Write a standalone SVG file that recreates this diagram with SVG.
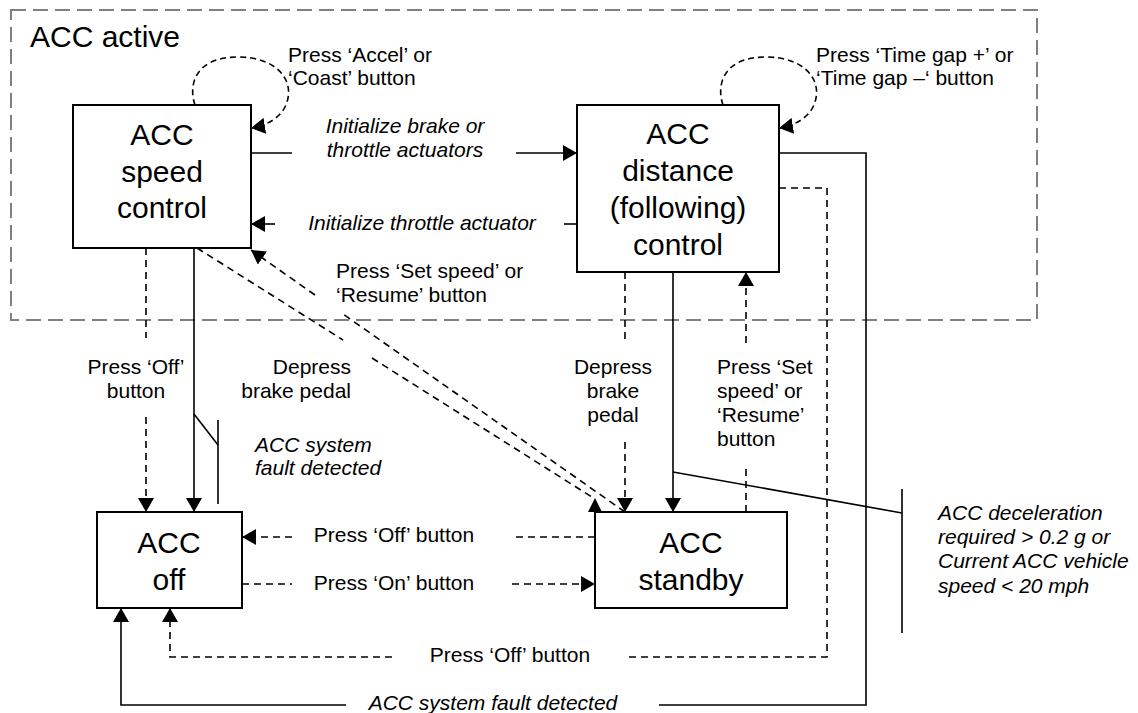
<svg xmlns="http://www.w3.org/2000/svg" width="1138" height="713" viewBox="0 0 1138 713">
<defs>
<style>
.box{fill:#fff;stroke:#000;stroke-width:2}
.ln{fill:none;stroke:#000;stroke-width:1.6}
.dl{fill:none;stroke:#000;stroke-width:1.6;stroke-dasharray:7 5}
.grp{fill:none;stroke:#808080;stroke-width:2;stroke-dasharray:15 7}
.t{font-family:"Liberation Sans",Arial,sans-serif;font-size:21px;fill:#000}
.it{font-style:italic}
.big{font-size:30px}
.m{text-anchor:middle}
.e{text-anchor:end}
</style>
<marker id="ah" viewBox="0 0 14 16" refX="14" refY="8" markerWidth="14" markerHeight="16" markerUnits="userSpaceOnUse" orient="auto">
<path d="M0,0 L14,8 L0,16 z" fill="#000"/>
</marker>
</defs>
<rect width="1138" height="713" fill="#fff"/>

<g id="acc-active">
<rect class="grp" x="11" y="10" width="1026" height="310"/>
<text class="t big" x="30" y="47">ACC active</text>
</g>

<g id="connectors">
<!-- self loops -->
<path class="dl" style="stroke-dasharray:6 4" d="M195,105 C188,85 195,57 238,57 C275,57 292,78 288,98 C285,115 270,125 251,128" marker-end="url(#ah)"/>
<path class="dl" style="stroke-dasharray:6 4" d="M723,105 C716,85 723,57 766,57 C803,57 820,78 816,98 C813,115 798,125 779,128" marker-end="url(#ah)"/>
<!-- initialize brake or throttle -->
<path class="ln" d="M251,153 H292"/>
<path class="ln" d="M516,153 H577" marker-end="url(#ah)"/>
<!-- initialize throttle actuator -->
<path class="ln" d="M577,224 H564"/>
<path class="ln" d="M275,224 H251" marker-end="url(#ah)"/>
<!-- speed -> off, press off -->
<path class="dl" d="M146,248 V338"/>
<path class="dl" d="M146,417 V512" marker-end="url(#ah)"/>
<!-- speed -> off, brake -->
<path class="ln" d="M194,248 V512" marker-end="url(#ah)"/>
<!-- fault symbol -->
<path class="ln" d="M194,414 L218,445"/>
<path class="ln" d="M218,420 V504"/>
<!-- diagonal: standby -> speed (set speed / resume) -->
<path class="dl" d="M625,512 L343,314"/>
<path class="dl" d="M315,295 L251,250" marker-end="url(#ah)"/>
<!-- diagonal: speed -> standby (depress brake) -->
<path class="dl" d="M197,248 L343,340"/>
<path class="dl" d="M372,358 L595,499"/>
<polygon points="595,498 588,512 602,512" fill="#000"/>
<!-- distance -> standby dashed -->
<path class="dl" d="M625,272 V343"/>
<path class="dl" d="M625,442 V512" marker-end="url(#ah)"/>
<!-- distance -> standby solid -->
<path class="ln" d="M673,272 V512" marker-end="url(#ah)"/>
<path class="ln" d="M673,472 L902,513"/>
<path class="ln" d="M902,489 V633"/>
<!-- standby -> distance -->
<path class="dl" d="M746,512 V468"/>
<path class="dl" d="M746,343 V272" marker-end="url(#ah)"/>
<!-- standby -> off press off -->
<path class="dl" d="M595,537 H512"/>
<path class="dl" d="M292,537 H242" marker-end="url(#ah)"/>
<!-- off -> standby press on -->
<path class="dl" d="M242,584 H292"/>
<path class="dl" d="M512,584 H595" marker-end="url(#ah)"/>
<!-- distance -> off press off -->
<path class="dl" d="M779,188 H827 V657 H626"/>
<path class="dl" d="M392,657 H170 V608" marker-end="url(#ah)"/>
<!-- distance -> off fault -->
<path class="ln" d="M779,153 H866 V705 H659"/>
<path class="ln" d="M346,705 H121 V608" marker-end="url(#ah)"/>
</g>

<g id="labels">
<text class="t" x="288" y="62">Press ‘Accel’ or</text>
<text class="t" x="288" y="85">‘Coast’ button</text>
<text class="t" x="816" y="62">Press ‘Time gap +’ or</text>
<text class="t" x="816" y="85">‘Time gap –‘ button</text>
<text class="t it m" x="405" y="133">Initialize brake or</text>
<text class="t it m" x="405" y="157">throttle actuators</text>
<text class="t it m" x="422" y="230">Initialize throttle actuator</text>
<text class="t" x="336" y="278">Press ‘Set speed’ or</text>
<text class="t" x="336" y="302">‘Resume’ button</text>
<text class="t m" x="136" y="374">Press ‘Off’</text>
<text class="t m" x="136" y="398">button</text>
<text class="t e" x="351" y="374">Depress</text>
<text class="t e" x="351" y="398">brake pedal</text>
<text class="t it" x="255" y="452">ACC system</text>
<text class="t it" x="255" y="475">fault detected</text>
<text class="t m" x="613" y="374">Depress</text>
<text class="t m" x="613" y="398">brake</text>
<text class="t m" x="613" y="422">pedal</text>
<text class="t" x="717" y="374">Press ‘Set</text>
<text class="t" x="717" y="398">speed’ or</text>
<text class="t" x="717" y="422">‘Resume’</text>
<text class="t" x="717" y="446">button</text>
<text class="t it" x="938" y="520">ACC deceleration</text>
<text class="t it" x="938" y="544">required &gt; 0.2 g or</text>
<text class="t it" x="938" y="568">Current ACC vehicle</text>
<text class="t it" x="938" y="593">speed &lt; 20 mph</text>
<text class="t m" x="394" y="542">Press ‘Off’ button</text>
<text class="t m" x="394" y="590">Press ‘On’ button</text>
<text class="t m" x="510" y="662">Press ‘Off’ button</text>
<text class="t it m" x="493" y="710">ACC system fault detected</text>
</g>

<g id="speed-control">
<rect class="box" x="73" y="105" width="178" height="143"/>
<text class="t big m" x="162" y="145">ACC</text>
<text class="t big m" x="162" y="182">speed</text>
<text class="t big m" x="162" y="218">control</text>
</g>
<g id="distance-control">
<rect class="box" x="577" y="105" width="202" height="167"/>
<text class="t big m" x="678" y="144">ACC</text>
<text class="t big m" x="678" y="181">distance</text>
<text class="t big m" x="678" y="218">(following)</text>
<text class="t big m" x="678" y="255">control</text>
</g>
<g id="acc-off">
<rect class="box" x="97" y="512" width="145" height="96"/>
<text class="t big m" x="169" y="553">ACC</text>
<text class="t big m" x="169" y="590">off</text>
</g>
<g id="acc-standby">
<rect class="box" x="595" y="512" width="192" height="96"/>
<text class="t big m" x="691" y="553">ACC</text>
<text class="t big m" x="691" y="590">standby</text>
</g>
</svg>
